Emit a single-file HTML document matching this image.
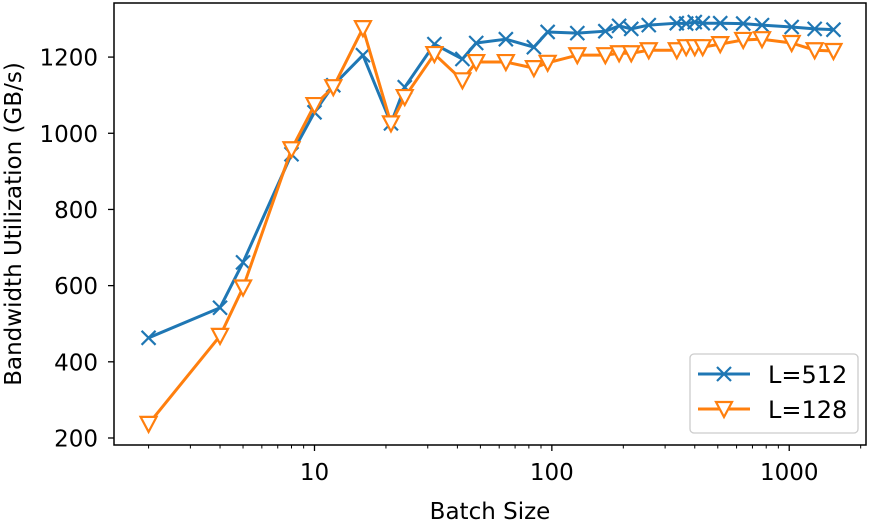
<!DOCTYPE html>
<html><head><meta charset="utf-8"><style>
body{margin:0;background:#fff}
svg text{font-family:"DejaVu Sans","Liberation Sans",sans-serif;fill:#000}
</style></head><body>
<svg id="chart" width="872" height="523" xmlns="http://www.w3.org/2000/svg"></svg>
<script>
const batchSizes=[2,4,5,8,10,12,16,21,24,32,42,48,64,84,96,128,168,192,216,256,336,368,400,432,512,640,768,1024,1280,1536];
const seriesL512=[463,542,661,945,1055,1126,1205,1026,1121,1234,1195,1237,1247,1226,1266,1263,1268,1282,1274,1284,1289,1288,1292,1289,1289,1288,1284,1279,1274,1272];
const seriesL128=[237,468,595,958,1074,1121,1276,1026,1095,1208,1139,1187,1187,1171,1185,1205,1205,1210,1210,1218,1218,1226,1226,1226,1234,1245,1247,1237,1218,1216];
const yTicks=[200,400,600,800,1000,1200];
const xTicks=[10,100,1000];
const L=114,R=866,T=3,B=445;
const xMin=Math.log10(1.43),xMax=Math.log10(2106),yMin=181.6,yMax=1342;
const sx=v=>L+(Math.log10(v)-xMin)/(xMax-xMin)*(R-L);
const sy=v=>B-(v-yMin)/(yMax-yMin)*(B-T);
const svg=document.getElementById('chart');
const NS='http://www.w3.org/2000/svg';
function mk(tag,attrs,parent){const e=document.createElementNS(NS,tag);for(const k in attrs)e.setAttribute(k,attrs[k]);(parent||svg).appendChild(e);return e;}
yTicks.forEach(v=>{
 const t=mk('line',{x1:L-6,x2:L,y1:sy(v),y2:sy(v),stroke:'#000','stroke-width':1.3});
 
 
 const tx=mk('text',{x:L-16,y:sy(v)+8.5,'text-anchor':'end','font-size':23});
 tx.textContent=v;
 
 
});
for(let d=1;d<=1000;d*=10){for(let m=1;m<10;m++){const v=d*m;if(v<1.43||v>2106)continue;
 const major=(m===1);
 const t=mk('line',{x1:sx(v),x2:sx(v),y1:B,y2:B+(major?6:3.5),stroke:'#000','stroke-width':major?1.3:1});
 
 
}}
xTicks.forEach(v=>{
 const tx=mk('text',{x:sx(v),y:480,'text-anchor':'middle','font-size':23});
 tx.textContent=v;
 
 
});
function drawSeries(vals,color,marker,name){
 const g=mk('g',{});
 
 
 mk('polyline',{points:batchSizes.map((b,i)=>sx(b)+','+sy(vals[i])).join(' '),fill:'none',stroke:color,'stroke-width':3,'stroke-linejoin':'round'},g);
 batchSizes.forEach((b,i)=>{
  const x=sx(b),y=sy(vals[i]);let m;
  if(marker==='x'){m=mk('path',{d:`M${x-7},${y-7}L${x+7},${y+7}M${x-7},${y+7}L${x+7},${y-7}`,stroke:color,'stroke-width':2.2,fill:'none'},g);}
  else{m=mk('path',{d:`M${x-8},${y-7}L${x+8},${y-7}L${x},${y+8}Z`,stroke:color,'stroke-width':2.2,fill:'#fff'},g);}
  
  
 });
}
drawSeries(seriesL512,'#1f77b4','x','series-l512');
drawSeries(seriesL128,'#ff7f0e','v','series-l128');
const fr=mk('rect',{x:L,y:T,width:R-L,height:B-T,fill:'none',stroke:'#000','stroke-width':1.5});


const xt=mk('text',{x:(L+R)/2,y:519,'text-anchor':'middle','font-size':23});
xt.textContent='Batch Size';


const yt=mk('text',{x:0,y:0,'text-anchor':'middle','font-size':23,transform:`translate(21,${(T+B)/2}) rotate(-90)`});
yt.textContent='Bandwidth Utilization (GB/s)';


const lg=mk('g',{});


mk('rect',{x:690,y:354,width:168,height:79,rx:4,fill:'#fff',stroke:'#ccc','stroke-width':1.3},lg);
[['L=512','#1f77b4','x',374,383],['L=128','#ff7f0e','v',409,418]].forEach(([lab,c,mkType,y,by])=>{
 const e=mk('g',{},lg);
 
 
 mk('line',{x1:698,x2:750,y1:y,y2:y,stroke:c,'stroke-width':3},e);
 const x=724;
 if(mkType==='x')mk('path',{d:`M${x-7},${y-7}L${x+7},${y+7}M${x-7},${y+7}L${x+7},${y-7}`,stroke:c,'stroke-width':2.2},e);
 else mk('path',{d:`M${x-8},${y-7}L${x+8},${y-7}L${x},${y+8}Z`,stroke:c,'stroke-width':2.2,fill:'#fff'},e);
 const t=mk('text',{x:768,y:by,'font-size':24},e);t.textContent=lab;
});
</script>
</body></html>
